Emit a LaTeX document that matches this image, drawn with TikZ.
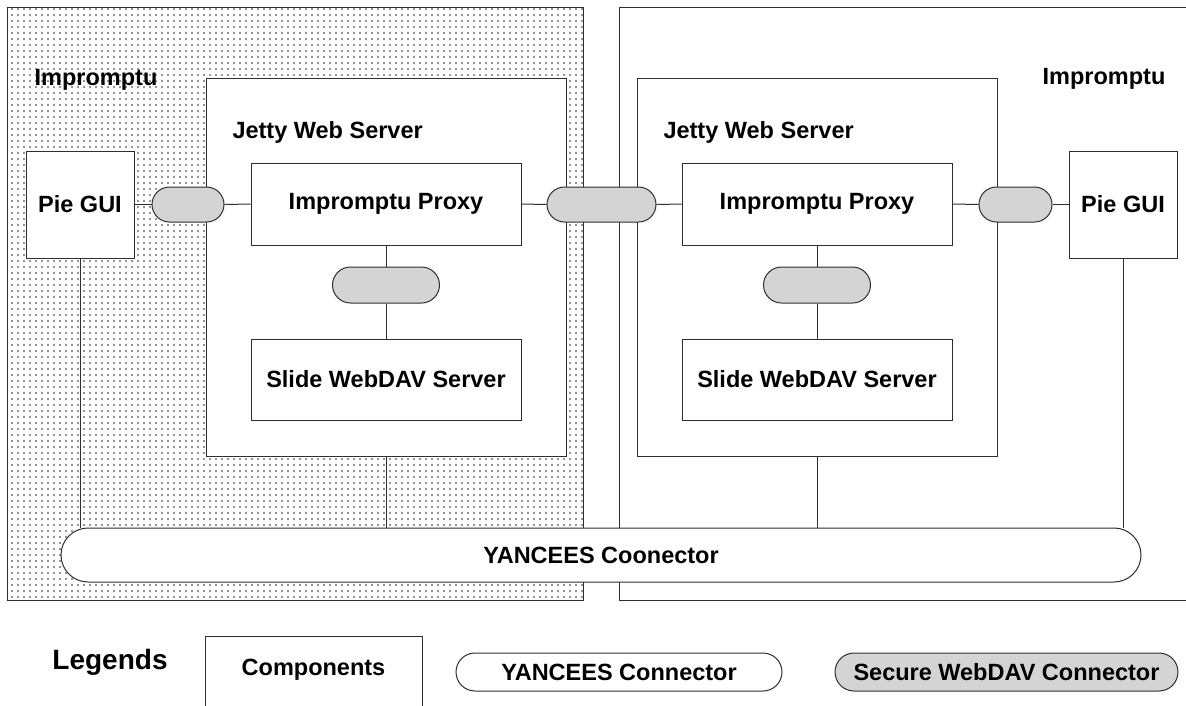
\documentclass[tikz,border=0pt]{standalone}
\usepackage{fontspec}
\setmainfont{Liberation Sans}
\usetikzlibrary{shapes.misc,patterns.meta}
\definecolor{lc}{HTML}{2E2E2E}
\definecolor{conngray}{HTML}{D4D4D4}
\begin{document}
\begin{tikzpicture}[x=1pt,y=-1pt,line width=1pt,
  every node/.style={font=\fontsize{23.5}{27}\selectfont\bfseries, inner sep=0pt, text=black},
  comp/.style={draw=lc, fill=white, rectangle},
  secconn/.style={draw=lc, fill=conngray, rounded rectangle},
  yconn/.style={draw=lc, fill=white, rounded rectangle},
  link/.style={draw=lc, line width=1pt}]
\useasboundingbox (0,0) rectangle (1186,705);
% outer Impromptu containers
\node[draw=lc, rectangle, minimum width=576, minimum height=593,
      pattern={Dots[distance=6pt,radius=0.8pt]}, pattern color=black!85] (outerL) at (295,303.5) {};
\node[draw=lc, fill=white, rectangle, minimum width=576, minimum height=593] (outerR) at (907,303.5) {};
\node (impL) at (96,80) {Impromptu};
\node (impR) at (1104,79) {Impromptu};
% Jetty web servers
\node[comp, minimum width=360, minimum height=378] (jettyL) at (386,267) {};
\node[comp, minimum width=360, minimum height=378] (jettyR) at (817,267) {};
\node[anchor=west] (jettyLt) at (232,132) {Jetty Web Server};
\node[anchor=west] (jettyRt) at (663,132) {Jetty Web Server};
% components
\node[comp, minimum width=108, minimum height=107] (pieL) at (80,204.5) {Pie GUI};
\node[comp, minimum width=108, minimum height=107] (pieR) at (1123,204.5) {Pie GUI};
\node[comp, minimum width=270, minimum height=82] (proxyL) at (386,204) {Impromptu Proxy};
\node[comp, minimum width=270, minimum height=82] (proxyR) at (817,204) {Impromptu Proxy};
\node[comp, minimum width=270, minimum height=81] (slideL) at (386,379.5) {Slide WebDAV Server};
\node[comp, minimum width=270, minimum height=81] (slideR) at (817,379.5) {Slide WebDAV Server};
% secure connectors
\node[secconn, minimum width=72, minimum height=35] (connL) at (188,204.5) {};
\node[secconn, minimum width=109, minimum height=35] (connM) at (601.5,204.5) {};
\node[secconn, minimum width=73, minimum height=35] (connR) at (1015.5,204.5) {};
\node[secconn, minimum width=107, minimum height=36] (cvL) at (386,285) {};
\node[secconn, minimum width=107, minimum height=36] (cvR) at (817,285) {};
% YANCEES connector
\node[yconn, minimum width=1080, minimum height=54] (yan) at (601,555) {YANCEES Coonector};
% links
\draw[link] (pieL.east) -- (connL.west);
\draw[link] (connL.east) -- (proxyL.west);
\draw[link] (proxyL.east) -- (connM.west);
\draw[link] (connM.east) -- (proxyR.west);
\draw[link] (proxyR.east) -- (connR.west);
\draw[link] (connR.east) -- (pieR.west);
\draw[link] (proxyL.south) -- (cvL.north);
\draw[link] (cvL.south) -- (slideL.north);
\draw[link] (proxyR.south) -- (cvR.north);
\draw[link] (cvR.south) -- (slideR.north);
\draw[link] (pieL.south) -- (pieL.south |- yan.north);
\draw[link] (jettyL.south) -- (jettyL.south |- yan.north);
\draw[link] (jettyR.south) -- (jettyR.south |- yan.north);
\draw[link] (pieR.south) -- (pieR.south |- yan.north);
% legend
\node[font=\fontsize{28}{32}\selectfont\bfseries] (legends) at (110,662) {Legends};
\node[comp, minimum width=217, minimum height=90] (legcomp) at (313.5,681) {};
\node (legcompt) at (313.5,670) {Components};
\node[yconn, minimum width=326, minimum height=38] (legyan) at (619,672) {YANCEES Connector};
\node[secconn, minimum width=343, minimum height=38] (legsec) at (1006.5,672) {Secure WebDAV Connector};
\end{tikzpicture}
\end{document}
